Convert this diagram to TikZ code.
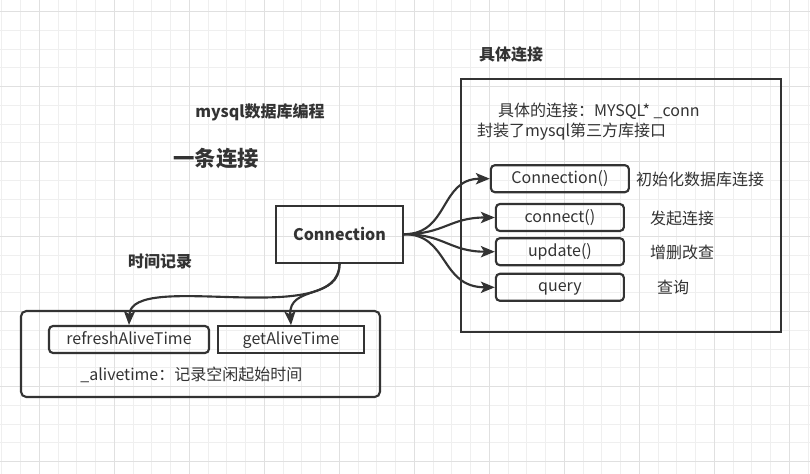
\documentclass[tikz,border=0pt]{standalone}
\usepackage{fontspec}
\setmainfont{Noto Sans CJK SC}
\usepackage{tikz}
\usetikzlibrary{arrows.meta, positioning}
\definecolor{ink}{HTML}{333333}
\definecolor{luoinho}{HTML}{EFEFEF}
\definecolor{luoilon}{HTML}{E0E0E0}

\begin{document}
\begin{tikzpicture}[x=0.75pt, y=-0.75pt, line width=1.6pt, color=ink,
    font=\fontsize{12}{14}\selectfont,
    hop/.style={rectangle, draw, inner sep=0pt, minimum height=20.25pt, text height=9.5pt, text depth=2.5pt},
    hopbo/.style={hop, rounded corners=3pt},
    nhan/.style={anchor=west, inner sep=0pt},
    tieude/.style={inner sep=0pt, font=\fontsize{12}{14}\selectfont\bfseries},
    muiten/.style={-{Stealth[length=10.5pt, width=8.5pt, inset=2.5pt]}}] % Tỉ lệ hình: 1 đơn vị = 1 px

    % Nền lưới
    \useasboundingbox (0,0) rectangle (810,474);
    \fill[white] (0,0) rectangle (810,474);
    \foreach \k in {0,...,43} \draw[line width=0.75pt, luoinho] ({1.8+18.75*\k},0) -- ({1.8+18.75*\k},474); % Lưới dọc
    \foreach \k in {0,...,24} \draw[line width=0.75pt, luoinho] (0,{11.7+18.75*\k}) -- (810,{11.7+18.75*\k}); % Lưới ngang
    \foreach \k in {0,...,10} \draw[line width=0.75pt, luoilon] ({39.3+75*\k},0) -- ({39.3+75*\k},474); % Lưới dọc đậm
    \foreach \k in {0,...,6} \draw[line width=0.75pt, luoilon] (0,{11.7+75*\k}) -- (810,{11.7+75*\k}); % Lưới ngang đậm

    % Các khung lớn
    \node[hop, minimum width=240pt, minimum height=189.75pt] (cuthe) at (621,205.5) {}; % Khung kết nối cụ thể
    \node[hop, rounded corners=4pt, minimum width=269.25pt, minimum height=64.5pt] (thoigian) at (200.5,354) {}; % Khung thời gian
    \node[hop, minimum width=95.25pt, minimum height=42.75pt, text height=10pt, text depth=1pt,
          font=\fontsize{12}{14}\selectfont\bfseries] (conn) at (339.5,234.2) {Connection}; % Khối chính

    % Các hàm
    \node[hopbo, minimum width=103.5pt] (khoitao) at (559.9,178.7) {Connection()};
    \node[hopbo, minimum width=96pt] (ketnoi) at (559.9,217.5) {connect()};
    \node[hopbo, minimum width=96pt] (capnhat) at (559.9,251.7) {update()};
    \node[hopbo, minimum width=96pt] (truyvan) at (559.9,287.3) {query};
    \node[hopbo, minimum width=120pt] (lammoi) at (129,339.5) {refreshAliveTime};
    \node[hop, minimum width=109.5pt] (laytg) at (291,339.7) {getAliveTime};

    % Tiêu đề
    \node[tieude] (tdcuthe) at (511,55) {具体连接};
    \node[tieude] (tdlaptrinh) at (260,112.7) {mysql数据库编程};
    \node[tieude, font=\fontsize{16}{18}\selectfont\bfseries] (tdketnoi) at (216,159) {一条连接};
    \node[tieude] (tdthoigian) at (160,261.7) {时间记录};

    % Chú thích
    \node[nhan] (mota1) at (497,111.7) {具体的连接：MYSQL* \_conn};
    \node[nhan] (mota2) at (476,131.7) {封装了mysql第三方库接口};
    \node[nhan] (nhkhoitao) at (635,179.3) {初始化数据库连接};
    \node[nhan] (nhketnoi) at (649,218) {发起连接};
    \node[nhan] (nhcapnhat) at (649,252.7) {增删改查};
    \node[nhan] (nhtruyvan) at (656,287.3) {查询};
    \node[nhan] (nhthoigian) at (79.3,375) {\_alivetime：记录空闲起始时间};

    % Mũi tên
    \draw[muiten] (conn.east) .. controls +(45,0) and +(-50,0) .. (khoitao.west);
    \draw[muiten] (conn.east) .. controls +(40,0) and +(-45,0) .. (ketnoi.west);
    \draw[muiten] (conn.east) .. controls +(40,0) and +(-45,0) .. (capnhat.west);
    \draw[muiten] (conn.east) .. controls +(45,0) and +(-55,0) .. (truyvan.west);
    \draw[muiten] (conn.south) .. controls +(0,67) and +(2,-56) .. (lammoi.north);
    \draw[muiten] (conn.south) .. controls +(0,37) and +(-3,-41) .. (laytg.north);
\end{tikzpicture}
\end{document}
